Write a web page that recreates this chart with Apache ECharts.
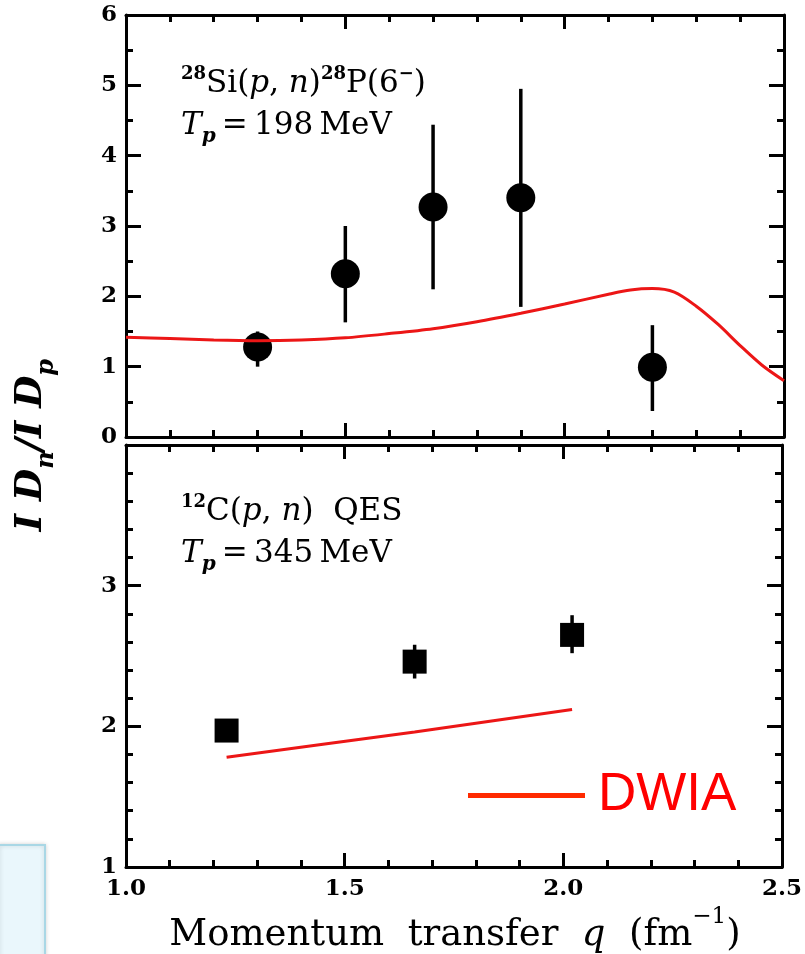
<!DOCTYPE html>
<html>
<head>
<meta charset="utf-8">
<script src="https://cdn.jsdelivr.net/npm/echarts@6/dist/echarts.min.js"></script>
<style>
html,body{margin:0;padding:0;background:#fff;}
#chart{width:805px;height:954px;}
</style>
</head>
<body>
<div id="chart"></div>
<script>
// ---- Data ----
// Top panel: 28Si(p,n)28P(6-), Tp = 198 MeV
const qTop      = [1.30, 1.50, 1.70, 1.90, 2.20];
const ratioTop  = [1.28, 2.32, 3.27, 3.40, 0.99];
const errLoTop  = [1.00, 1.63, 2.10, 1.85, 0.37];
const errHiTop  = [1.50, 3.00, 4.44, 4.95, 1.59];
const qCurveTop = [1.0, 1.1, 1.2, 1.3, 1.4, 1.5, 1.6, 1.7, 1.8, 1.9, 2.0, 2.1, 2.15, 2.2, 2.25, 2.3, 2.35, 2.4, 2.45, 2.5];
const dwiaTop   = [1.42, 1.40, 1.38, 1.37, 1.38, 1.41, 1.47, 1.54, 1.64, 1.76, 1.89, 2.03, 2.09, 2.11, 2.06, 1.86, 1.60, 1.30, 1.02, 0.80];
// Bottom panel: 12C(p,n) QES, Tp = 345 MeV
const qBot      = [1.23, 1.66, 2.02];
const ratioBot  = [1.97, 2.46, 2.65];
const errLoBot  = [1.94, 2.34, 2.52];
const errHiBot  = [2.00, 2.58, 2.79];
const qCurveBot = [1.23, 1.66, 2.02];
const dwiaBot   = [1.78, 1.96, 2.12];
// Axis ranges / ticks
const xRange = [1.0, 2.5];
const yTopRange = [0, 6];
const yBotRange = [1, 4];

const SERIF = "'DejaVu Serif', 'Liberation Serif', serif";
const RED = '#ec1616';

const chart = echarts.init(document.getElementById('chart'), null, {renderer: 'canvas'});

function xAx(grid, pos, labels) {
  return {
    type: 'value', gridIndex: grid, position: pos,
    min: xRange[0], max: xRange[1], interval: 0.5,
    axisLine: {show: true, onZero: false, lineStyle: {color: '#000', width: 3}},
    axisTick: {show: true, inside: true, length: 14, lineStyle: {color: '#000', width: 3}},
    minorTick: {show: true, splitNumber: 5, length: 7, lineStyle: {color: '#000', width: 3}},
    splitLine: {show: false},
    axisLabel: {show: labels, margin: 11, color: '#000', fontFamily: SERIF, fontWeight: 'bold', fontSize: 23,
      formatter: v => v.toFixed(1)}
  };
}
function yAx(grid, pos, range, minorSplit, labels, showMax) {
  return {
    type: 'value', gridIndex: grid, position: pos,
    min: range[0], max: range[1], interval: 1,
    axisLine: {show: true, onZero: false, lineStyle: {color: '#000', width: 3}},
    axisTick: {show: true, inside: true, length: 15, lineStyle: {color: '#000', width: 3}},
    minorTick: {show: true, splitNumber: minorSplit, length: 7, lineStyle: {color: '#000', width: 3}},
    splitLine: {show: false},
    axisLabel: {show: labels, margin: 9, color: '#000', fontFamily: SERIF, fontWeight: 'bold', fontSize: 23,
      showMaxLabel: showMax, showMinLabel: true}
  };
}

function errBar(params, api) {
  const x = api.value(0);
  const p1 = api.coord([x, api.value(1)]);
  const p2 = api.coord([x, api.value(2)]);
  return {type: 'line', shape: {x1: p1[0], y1: p1[1], x2: p2[0], y2: p2[1]},
    style: {stroke: '#000', lineWidth: 3.5}};
}

const option = {
  backgroundColor: '#fff',
  animation: false,
  grid: [
    {left: 126, right: 21, top: 15, height: 422},
    {left: 126, right: 21, top: 445, height: 422}
  ],
  xAxis: [xAx(0, 'bottom', false), xAx(0, 'top', false), xAx(1, 'bottom', true), xAx(1, 'top', false)],
  yAxis: [yAx(0, 'left', yTopRange, 2, true, true), yAx(0, 'right', yTopRange, 2, false, true),
          yAx(1, 'left', yBotRange, 5, true, false), yAx(1, 'right', yBotRange, 5, false, false)],
  legend: {
    left: 463, top: 764, itemWidth: 117, itemHeight: 5, icon: 'rect',
    data: [{name: 'DWIA', icon: 'rect', itemStyle: {color: '#ff2a00'}}],
    textStyle: {color: '#ff0000', fontFamily: "'Liberation Sans', Arial, sans-serif", fontSize: 53, padding: [0, 0, 0, 8]},
    selectedMode: false
  },
  series: [
    {type: 'custom', name: 'errTop', xAxisIndex: 0, yAxisIndex: 0, renderItem: errBar, z: 2,
      data: qTop.map((q, i) => [q, errLoTop[i], errHiTop[i]]), encode: {x: 0, y: [1, 2]}},
    {type: 'scatter', name: 'dataTop', xAxisIndex: 0, yAxisIndex: 0, symbol: 'circle', symbolSize: 29, z: 3,
      itemStyle: {color: '#000', opacity: 1}, data: qTop.map((q, i) => [q, ratioTop[i]])},
    {type: 'line', name: 'DWIA', xAxisIndex: 0, yAxisIndex: 0, smooth: 0.3, showSymbol: false, z: 4,
      lineStyle: {color: RED, width: 3}, itemStyle: {color: RED},
      data: qCurveTop.map((q, i) => [q, dwiaTop[i]])},
    {type: 'custom', name: 'errBot', xAxisIndex: 2, yAxisIndex: 2, renderItem: errBar, z: 2,
      data: qBot.map((q, i) => [q, errLoBot[i], errHiBot[i]]), encode: {x: 0, y: [1, 2]}},
    {type: 'scatter', name: 'dataBot', xAxisIndex: 2, yAxisIndex: 2, symbol: 'rect', symbolSize: 24, z: 3,
      itemStyle: {color: '#000', opacity: 1}, data: qBot.map((q, i) => [q, ratioBot[i]])},
    {type: 'line', name: 'DWIA', xAxisIndex: 2, yAxisIndex: 2, smooth: 0.2, showSymbol: false, z: 4,
      lineStyle: {color: RED, width: 3}, itemStyle: {color: RED},
      data: qCurveBot.map((q, i) => [q, dwiaBot[i]])}
  ],
  graphic: [
    // faint slide box at bottom-left
    {type: 'rect', left: -2, top: 844, shape: {width: 46, height: 120},
      style: {fill: '#eaf7fc', stroke: '#a9d7e5', lineWidth: 2, shadowBlur: 4, shadowColor: 'rgba(0,0,0,0.15)'}, z: 0},
    // y-axis title
    {type: 'text', x: 36, y: 445, rotation: Math.PI / 2, z: 10,
      style: {
        text: '{m|I D}{s|n}{m|/I D}{s|p}',
        align: 'center', verticalAlign: 'middle',
        rich: {
          m: {fontFamily: SERIF, fontWeight: 'bold', fontStyle: 'italic', fontSize: 37, lineHeight: 46, verticalAlign: 'top', fill: '#000'},
          s: {fontFamily: SERIF, fontWeight: 'bold', fontStyle: 'italic', fontSize: 24, lineHeight: 46, verticalAlign: 'bottom', fill: '#000'}
        }
      }},
    // x-axis title
    {type: 'text', x: 455, y: 930, z: 10,
      style: {
        text: '{r|Momentum  transfer  }{i|q}{r|  (fm}{u|−1}{r|)}',
        align: 'center', verticalAlign: 'middle',
        rich: {
          r: {fontFamily: SERIF, fontSize: 37, lineHeight: 48, verticalAlign: 'bottom', fill: '#000'},
          i: {fontFamily: SERIF, fontStyle: 'italic', fontSize: 37, lineHeight: 48, verticalAlign: 'bottom', fill: '#000'},
          u: {fontFamily: SERIF, fontSize: 23, lineHeight: 48, verticalAlign: 'top', fill: '#000'}
        }
      }},
    // top-panel annotation
    {type: 'text', x: 181, y: 63, z: 10,
      style: {
        text: '{u|28}{r|Si(}{i|p}{r|, }{i|n}{r|)}{u|28}{r|P(6}{u|−}{r|)}\n{i|T}{d|p}{r|\u2009=\u2009198\u2009MeV}',
        align: 'left', verticalAlign: 'top',
        rich: {
          r: {fontFamily: SERIF, fontSize: 31, lineHeight: 42, verticalAlign: 'middle', fill: '#000'},
          i: {fontFamily: SERIF, fontStyle: 'italic', fontSize: 31, lineHeight: 42, verticalAlign: 'middle', fill: '#000'},
          u: {fontFamily: SERIF, fontWeight: 'bold', fontSize: 18, lineHeight: 42, verticalAlign: 'top', padding: [2, 0, 0, 0], fill: '#000'},
          d: {fontFamily: SERIF, fontStyle: 'italic', fontWeight: 'bold', fontSize: 20, lineHeight: 42, verticalAlign: 'bottom', fill: '#000'}
        }
      }},
    // bottom-panel annotation
    {type: 'text', x: 181, y: 491, z: 10,
      style: {
        text: '{u|12}{r|C(}{i|p}{r|, }{i|n}{r|)  QES}\n{i|T}{d|p}{r|\u2009=\u2009345\u2009MeV}',
        align: 'left', verticalAlign: 'top',
        rich: {
          r: {fontFamily: SERIF, fontSize: 31, lineHeight: 42, verticalAlign: 'middle', fill: '#000'},
          i: {fontFamily: SERIF, fontStyle: 'italic', fontSize: 31, lineHeight: 42, verticalAlign: 'middle', fill: '#000'},
          u: {fontFamily: SERIF, fontWeight: 'bold', fontSize: 18, lineHeight: 42, verticalAlign: 'top', padding: [2, 0, 0, 0], fill: '#000'},
          d: {fontFamily: SERIF, fontStyle: 'italic', fontWeight: 'bold', fontSize: 20, lineHeight: 42, verticalAlign: 'bottom', fill: '#000'}
        }
      }}
  ]
};
chart.setOption(option);
</script>
</body>
</html>
